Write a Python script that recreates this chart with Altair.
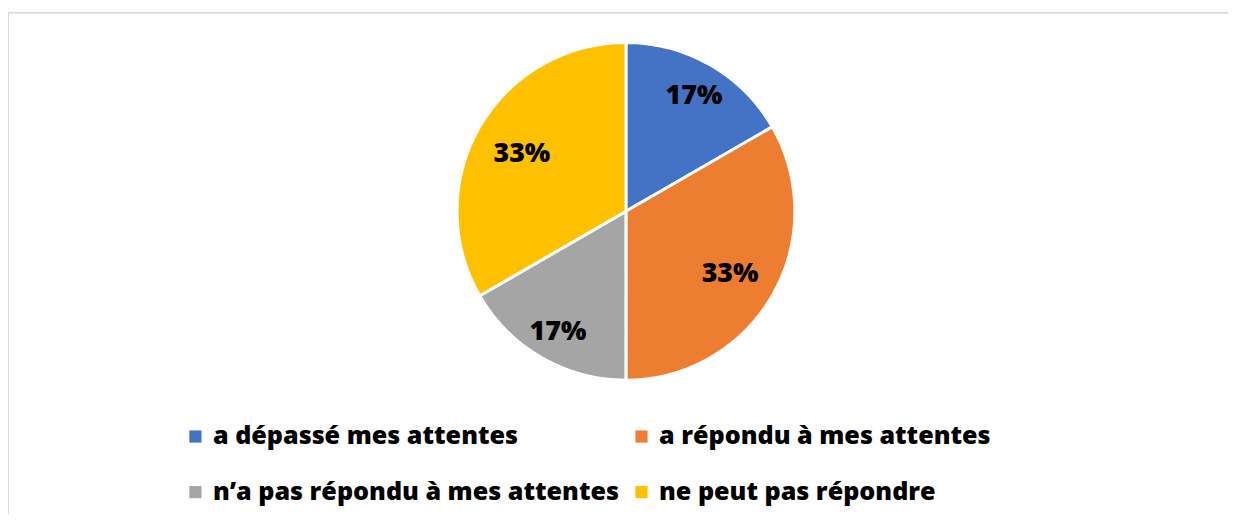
import altair as alt
import pandas as pd

categories = ["a dépassé mes attentes", "a répondu à mes attentes",
              "n’a pas répondu à mes attentes", "ne peut pas répondre"]
values = [1, 2, 1, 2]
labels = ["17%", "33%", "17%", "33%"]
colors = ["#4472C4", "#ED7D31", "#A5A5A5", "#FFC000"]

df = pd.DataFrame({"cat": categories, "val": values, "lab": labels,
                   "idx": list(range(len(categories)))})

W, H = 1228, 503
CX, CY = 622, 200
R = 170
FONT = "Open Sans"

base = alt.Chart(df).encode(
    theta=alt.Theta("val:Q", stack=True),
    order=alt.Order("idx:O"),
)

pie = base.mark_arc(radius=R, stroke="white", strokeWidth=3).encode(
    x=alt.value(CX), y=alt.value(CY),
    color=alt.Color(
        "cat:N",
        scale=alt.Scale(domain=categories, range=colors),
        sort=categories,
        legend=alt.Legend(
            title=None, orient="none", columns=2, direction="horizontal",
            legendX=176, legendY=414,
            symbolType="square", symbolSize=150, symbolStrokeWidth=0,
            labelFont=FONT, labelFontSize=25.3, labelFontWeight=800,
            labelColor="#000000", labelOffset=5, labelLimit=600,
            rowPadding=30, columnPadding=9, gridAlign="each",
        ),
    ),
)

text_base = alt.Chart(df).encode(
    theta=alt.Theta("val:Q", stack=True),
    order=alt.Order("idx:O"),
    x=alt.value(CX), y=alt.value(CY + 3), text="lab:N",
)
# labels are computed on the full stack, then the small/large slices get their own radius
text_small = text_base.mark_text(radius=137, font=FONT, fontSize=27, fontWeight=800,
                                 color="#000000").encode(
    opacity=alt.condition(alt.datum.val == 1, alt.value(1), alt.value(0)))
text_large = text_base.mark_text(radius=121, font=FONT, fontSize=27, fontWeight=800,
                                 color="#000000").encode(
    opacity=alt.condition(alt.datum.val == 2, alt.value(1), alt.value(0)))

frame_left = alt.Chart(df).mark_rule(color="#d9d9d9", strokeWidth=2).encode(
    x=alt.value(0), y=alt.value(0), y2=alt.value(H + 10))
frame_top = alt.Chart(df).mark_rule(color="#d9d9d9", strokeWidth=1.5).encode(
    x=alt.value(0), x2=alt.value(W + 10), y=alt.value(0))

chart = alt.layer(frame_left, frame_top, pie, text_small, text_large).properties(
    width=W, height=H,
    padding={"left": 0, "top": 3, "right": 0, "bottom": 0},
    autosize=alt.AutoSizeParams(type="none"),
).configure_view(stroke=None)

chart.save("out.html", embed_options={"renderer": "svg", "actions": False})
